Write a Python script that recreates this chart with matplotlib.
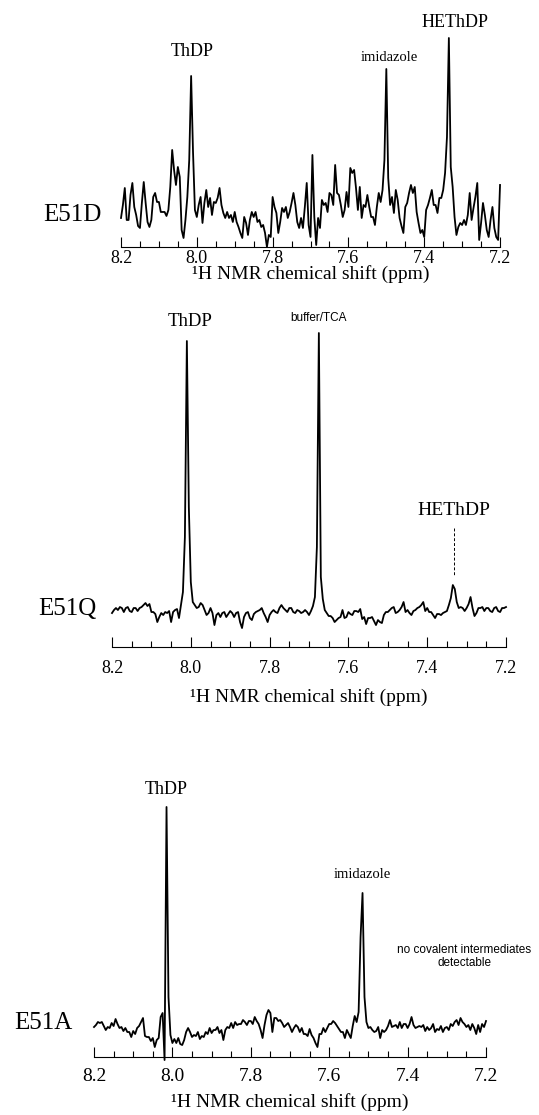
import numpy as np
import matplotlib
matplotlib.use("Agg")
import matplotlib.pyplot as plt
from matplotlib.ticker import MultipleLocator

plt.rcParams["font.family"] = ["Liberation Serif", "DejaVu Serif"]

# ==========================================
# DATA (intensity in a.u.)
# ==========================================
# chemical shift grid, 8.2 -> 7.2 ppm, 0.005 ppm steps (201 points)
shift_ppm = np.round(np.linspace(8.2, 7.2, 201), 3)

e51d = [
    29, 42, 59, 27, 27, 52, 64, 40, 32, 21,
    19, 44, 65, 44, 25, 20, 27, 50, 54, 45,
    45, 35, 35, 35, 31, 37, 60, 97, 77, 62,
    80, 70, 17, 9, 27, 50, 87, 171, 95, 37,
    30, 42, 50, 24, 44, 57, 40, 49, 32, 45,
    44, 49, 59, 42, 34, 29, 35, 29, 32, 25,
    35, 25, 20, 14, 9, 30, 24, 12, 27, 35,
    30, 35, 25, 27, 20, 22, 14, 0, 12, 10,
    50, 40, 34, 14, 25, 39, 35, 40, 29, 35,
    44, 54, 42, 25, 19, 29, 19, 40, 64, 22,
    10, 92, 30, 2, 29, 19, 47, 42, 44, 35,
    54, 52, 42, 82, 54, 52, 42, 30, 37, 55,
    40, 79, 74, 77, 59, 37, 60, 29, 42, 40,
    52, 40, 30, 30, 22, 40, 54, 45, 57, 87,
    178, 69, 42, 50, 34, 57, 47, 29, 21, 14,
    40, 44, 54, 62, 54, 60, 35, 24, 14, 17,
    10, 37, 42, 49, 57, 42, 42, 34, 49, 49,
    57, 74, 110, 209, 80, 60, 30, 12, 20, 24,
    22, 27, 22, 32, 54, 27, 39, 50, 64, 7,
    24, 44, 32, 17, 10, 27, 40, 19, 10, 7,
    62,
]

e51q = [
    34, 37, 39, 37, 40, 39, 35, 39, 40, 36,
    35, 39, 39, 36, 39, 40, 42, 44, 41, 43,
    35, 35, 33, 25, 30, 34, 32, 35, 34, 36,
    25, 35, 37, 38, 29, 42, 55, 110, 306, 140,
    65, 45, 42, 39, 40, 44, 42, 37, 32, 34,
    39, 34, 22, 32, 34, 30, 34, 35, 30, 33,
    36, 34, 30, 34, 35, 25, 19, 30, 34, 35,
    29, 27, 33, 35, 36, 37, 39, 34, 30, 25,
    32, 35, 37, 35, 34, 39, 42, 39, 37, 35,
    39, 39, 35, 34, 37, 36, 34, 35, 37, 35,
    32, 36, 41, 50, 100, 314, 70, 48, 37, 34,
    31, 31, 29, 25, 27, 29, 30, 37, 29, 30,
    35, 33, 32, 36, 36, 35, 38, 28, 30, 23,
    29, 29, 30, 26, 22, 27, 25, 24, 32, 35,
    35, 37, 39, 40, 34, 35, 37, 40, 45, 35,
    37, 34, 32, 36, 37, 39, 40, 42, 45, 36,
    39, 35, 35, 32, 29, 33, 33, 32, 34, 35,
    36, 42, 49, 62, 58, 45, 39, 40, 39, 36,
    39, 43, 50, 39, 31, 34, 39, 39, 40, 36,
    39, 39, 36, 35, 39, 40, 36, 35, 39, 39,
    40,
]

e51a = [
    30, 32, 35, 34, 35, 31, 27, 30, 29, 34,
    31, 38, 33, 29, 30, 26, 29, 25, 25, 20,
    26, 23, 29, 31, 35, 39, 21, 20, 20, 16,
    19, 10, 17, 19, 40, 44, -3, 250, 60, 22,
    14, 18, 14, 19, 13, 12, 17, 25, 29, 25,
    20, 22, 21, 25, 18, 21, 20, 25, 23, 29,
    24, 27, 27, 30, 24, 27, 17, 27, 30, 29,
    34, 29, 35, 32, 33, 33, 37, 35, 32, 36,
    36, 33, 40, 36, 33, 27, 19, 32, 42, 47,
    44, 25, 39, 39, 36, 37, 34, 30, 32, 34,
    30, 25, 29, 32, 30, 25, 29, 23, 23, 21,
    28, 22, 19, 14, 10, 23, 23, 29, 25, 29,
    33, 33, 36, 34, 31, 28, 25, 25, 19, 27,
    23, 19, 31, 41, 35, 45, 120, 164, 60, 35,
    29, 30, 27, 25, 26, 30, 19, 27, 25, 27,
    31, 37, 30, 31, 32, 29, 35, 29, 33, 33,
    29, 33, 40, 32, 29, 30, 31, 30, 32, 26,
    30, 27, 29, 33, 25, 28, 27, 31, 25, 29,
    30, 27, 33, 31, 35, 37, 32, 39, 35, 33,
    30, 32, 27, 33, 29, 23, 32, 25, 33, 30,
    36,
]

tick_values = [8.2, 8.0, 7.8, 7.6, 7.4, 7.2]
tick_labels = ["8.2", "8.0", "7.8", "7.6", "7.4", "7.2"]
xlabel = "\u00b9H NMR chemical shift (ppm)"


def spectrum_axis(rect, values, ymax, tick_pad, label_pad, tick_size):
    ax = fig.add_axes(rect)
    ax.plot(shift_ppm, values, color="black", lw=1.3, clip_on=False)
    ax.set_xlim(8.2, 7.2)
    ax.set_ylim(0, ymax)
    for side in ["top", "left", "right"]:
        ax.spines[side].set_visible(False)
    ax.spines["bottom"].set_linewidth(0.8)
    ax.set_yticks([])
    ax.set_xticks(tick_values)
    ax.set_xticklabels(tick_labels)
    ax.xaxis.set_minor_locator(MultipleLocator(0.05))
    ax.tick_params(axis="x", which="major", direction="in", length=7,
                   width=0.8, pad=tick_pad, labelsize=tick_size)
    ax.tick_params(axis="x", which="minor", direction="in", length=4,
                   width=0.8)
    ax.set_xlabel(xlabel, fontsize=14, labelpad=label_pad)
    ax.patch.set_visible(False)
    return ax


fig = plt.figure(figsize=(5.39, 11.15), dpi=100)

# ==========================================
# 1. E51D
# ==========================================
ax1 = spectrum_axis([0.2245, 0.7785, 0.7032, 0.1946], e51d, 217, 2, -1, 13)
ax1.text(8.013, 195, "ThDP", fontsize=13, ha="center", va="center")
ax1.text(7.493, 189, "imidazole", fontsize=10.5, ha="center", va="center")
ax1.text(7.319, 224, "HEThDP", fontsize=13, ha="center", va="center")
ax1.text(8.329, 32, "E51D", fontsize=18, ha="center", va="center")

# ==========================================
# 2. E51Q
# ==========================================
ax2 = spectrum_axis([0.2078, 0.4197, 0.731, 0.2933], e51q, 327, 9, 8, 13)
ax2.text(8.002, 326, "ThDP", fontsize=13.5, ha="center", va="center")
ax2.text(7.677, 329, "buffer/TCA", fontsize=8.5, ha="center", va="center",
         family=["Liberation Sans", "DejaVu Sans"])
ax2.text(7.332, 137, "HEThDP", fontsize=14, ha="center", va="center")
ax2.plot([7.332, 7.332], [119, 71], color="black", lw=0.7,
         linestyle=(0, (3, 2)))
ax2.text(8.314, 38, "E51Q", fontsize=18, ha="center", va="center")

# ==========================================
# 3. E51A
# ==========================================
ax3 = spectrum_axis([0.1744, 0.052, 0.7273, 0.2395], e51a, 267, 8, 6, 14)
ax3.text(8.016, 267, "ThDP", fontsize=13, ha="center", va="center")
ax3.text(7.516, 182, "imidazole", fontsize=10.5, ha="center", va="center")
ax3.text(7.256, 100.5, "no covalent intermediates\ndetectable", fontsize=8.5,
         ha="center", va="center", multialignment="center", linespacing=1.15,
         family=["Liberation Sans", "DejaVu Sans"])
ax3.text(8.330, 34, "E51A", fontsize=18, ha="center", va="center")

fig.savefig("out.png", dpi=100)
